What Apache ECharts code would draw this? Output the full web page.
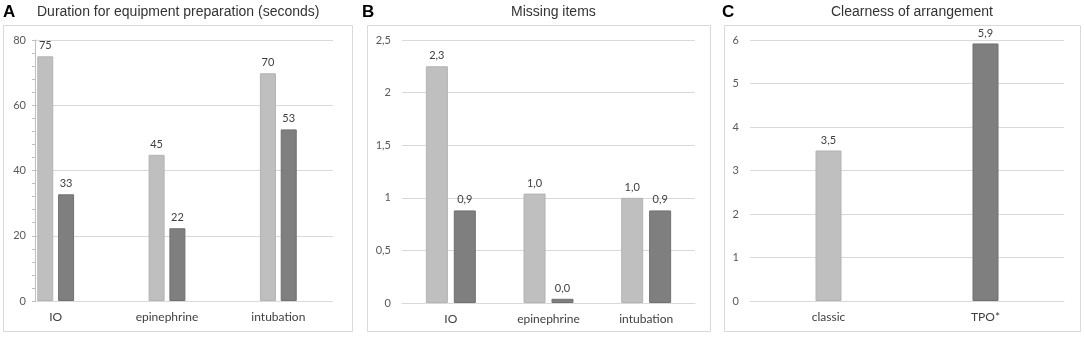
<!DOCTYPE html>
<html>
<head>
<meta charset="utf-8">
<script src="https://cdn.jsdelivr.net/npm/echarts@6/dist/echarts.min.js"></script>
<style>
  html, body { margin: 0; padding: 0; background: #fff; }
  #chart { width: 1084px; height: 338px; }
</style>
</head>
<body>
<div id="chart"></div>
<script>
// A: duration for equipment preparation (seconds)
const durCategories = ['IO', 'epinephrine', 'intubation']
const durClassic = [75, 44.8, 69.8]
const durTpo = [32.7, 22.3, 52.6]
const durTicks = [0, 80, 20]

// B: missing items
const missCategories = ['IO', 'epinephrine', 'intubation']
const missClassic = [2.25, 1.04, 1.0]
const missTpo = [0.88, 0.04, 0.88]
const missTicks = [0, 2.5, 0.5]

// C: clearness of arrangement
const clearCategories = ['classic', 'TPO*']
const clearValues = [3.46, 5.92]
const clearTicks = [0, 6, 1]

const LIGHT = '#bfbfbf'
const DARK = '#7f7f7f'
const LIGHT_EDGE = '#b3b3b3'
const DARK_EDGE = '#707070'
const TXT = '#404040'
const GRID = '#d9d9d9'
const labelFont = 'Lato'
const titleFont = 'Liberation Sans'

const comma = v => String(v).replace('.', ',')
const oneDec = p => p.value.toFixed(1).replace('.', ',')

function barLabel (fmt) {
  return {
    show: true,
    position: 'top',
    distance: 5,
    color: TXT,
    fontFamily: labelFont,
    fontSize: 11,
    formatter: fmt
  }
}

function catAxis (grid, data, showLine) {
  return {
    type: 'category',
    gridIndex: grid,
    data: data,
    axisLine: { show: showLine, lineStyle: { color: GRID } },
    axisTick: { show: false },
    axisLabel: { color: TXT, fontFamily: labelFont, fontSize: 12, margin: 10 }
  }
}

function valAxis (grid, ticks, fmt, extra) {
  return Object.assign({
    type: 'value',
    gridIndex: grid,
    min: ticks[0],
    max: ticks[1],
    interval: ticks[2],
    axisLine: { show: false },
    axisTick: { show: false },
    axisLabel: { color: '#595959', fontFamily: labelFont, fontSize: 11, margin: 11, formatter: fmt },
    splitLine: { lineStyle: { color: GRID, width: 1 } }
  }, extra || {})
}

// panel C: one bar per category, each in its own shade
const clearShades = [[LIGHT, LIGHT_EDGE], [DARK, DARK_EDGE]]
const clearData = clearValues.map((v, i) => ({
  value: v,
  itemStyle: { color: clearShades[i][0], borderColor: clearShades[i][1], borderWidth: 1 }
}))

let chart = echarts.init(document.getElementById('chart'), null, { renderer: 'canvas' })

chart.setOption({
  animation: false,
  title: [
    { text: 'A', left: 3, top: 4, padding: 0, textStyle: { fontFamily: titleFont, fontSize: 17, fontWeight: 'bold', color: '#000' } },
    { text: 'Duration for equipment preparation (seconds)', left: 37, top: 5, padding: 0, textStyle: { fontFamily: titleFont, fontSize: 14, fontWeight: 'normal', color: '#333' } },
    { text: 'B', left: 362, top: 4, padding: 0, textStyle: { fontFamily: titleFont, fontSize: 17, fontWeight: 'bold', color: '#000' } },
    { text: 'Missing items', left: 511, top: 5, padding: 0, textStyle: { fontFamily: titleFont, fontSize: 14, fontWeight: 'normal', color: '#333' } },
    { text: 'C', left: 722, top: 4, padding: 0, textStyle: { fontFamily: titleFont, fontSize: 17, fontWeight: 'bold', color: '#000' } },
    { text: 'Clearness of arrangement', left: 831, top: 5, padding: 0, textStyle: { fontFamily: titleFont, fontSize: 14, fontWeight: 'normal', color: '#333' } }
  ],
  graphic: [
    { type: 'rect', shape: { x: 3.5, y: 25.5, width: 349, height: 306 }, style: { fill: 'none', stroke: GRID, lineWidth: 1 } },
    { type: 'rect', shape: { x: 367.5, y: 25.5, width: 343, height: 306 }, style: { fill: 'none', stroke: GRID, lineWidth: 1 } },
    { type: 'rect', shape: { x: 724.5, y: 25.5, width: 356, height: 306 }, style: { fill: 'none', stroke: GRID, lineWidth: 1 } }
  ],
  grid: [
    // A axis grid (value lines + y axis)
    { left: 35, top: 40, width: 298, height: 261 },
    // A bar grid (bar groups sit wider than the axis area)
    { left: 0, top: 40, width: 334, height: 261 },
    // B
    { left: 402, top: 40, width: 293, height: 263 },
    // C
    { left: 750, top: 40, width: 314, height: 261 }
  ],
  xAxis: [
    { type: 'value', gridIndex: 0, show: false, min: 0, max: 1 },
    catAxis(1, durCategories, false),
    catAxis(2, missCategories, true),
    catAxis(3, clearCategories, true)
  ],
  yAxis: [
    valAxis(0, durTicks, null, {
      axisLine: { show: true, lineStyle: { color: '#bfbfbf' } },
      axisTick: { show: true, length: 3, lineStyle: { color: '#bfbfbf' } },
      minorTick: { show: true, splitNumber: 5, length: 3, lineStyle: { color: '#bfbfbf' } },
      axisLabel: { color: '#595959', fontFamily: labelFont, fontSize: 11, margin: 9 }
    }),
    { type: 'value', gridIndex: 1, min: durTicks[0], max: durTicks[1], show: false },
    valAxis(2, missTicks, comma),
    valAxis(3, clearTicks, null)
  ],
  series: [
    {
      type: 'bar', xAxisIndex: 1, yAxisIndex: 1, data: durClassic,
      barWidth: 16, barGap: '30%',
      itemStyle: { color: LIGHT, borderColor: LIGHT_EDGE, borderWidth: 1 },
      label: barLabel(p => Math.round(p.value))
    },
    {
      type: 'bar', xAxisIndex: 1, yAxisIndex: 1, data: durTpo,
      barWidth: 16, barGap: '30%',
      itemStyle: { color: DARK, borderColor: DARK_EDGE, borderWidth: 1 },
      label: barLabel(p => Math.round(p.value))
    },
    {
      type: 'bar', xAxisIndex: 2, yAxisIndex: 2, data: missClassic,
      barWidth: 22, barGap: '27%',
      itemStyle: { color: LIGHT, borderColor: LIGHT_EDGE, borderWidth: 1 },
      label: barLabel(oneDec)
    },
    {
      type: 'bar', xAxisIndex: 2, yAxisIndex: 2, data: missTpo,
      barWidth: 22, barGap: '27%',
      itemStyle: { color: DARK, borderColor: DARK_EDGE, borderWidth: 1 },
      label: barLabel(oneDec)
    },
    {
      type: 'bar', xAxisIndex: 3, yAxisIndex: 3, data: clearData,
      barWidth: 26,
      label: barLabel(oneDec)
    }
  ]
})
</script>
</body>
</html>
